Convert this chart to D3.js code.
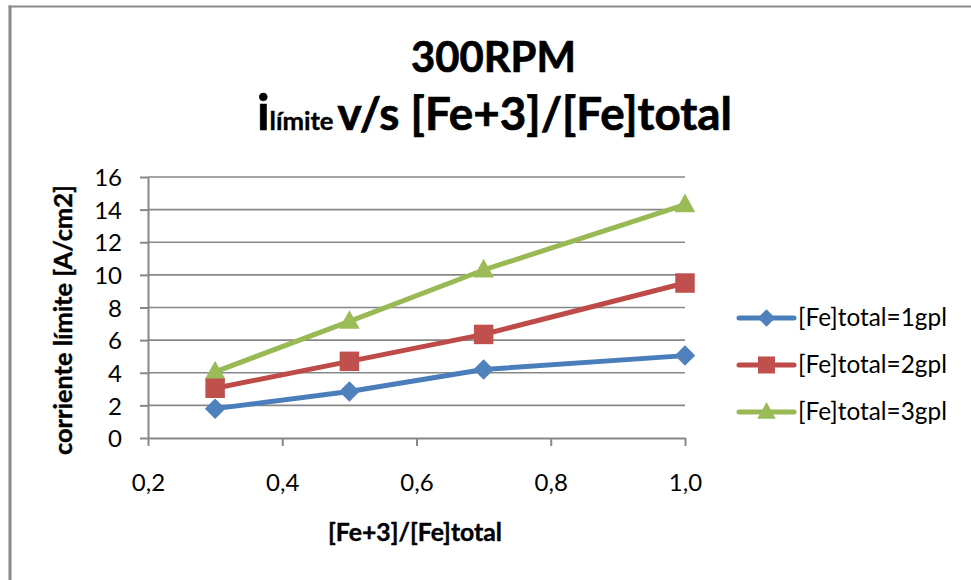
<!DOCTYPE html>
<html>
<head>
<meta charset="utf-8">
<script src="https://cdn.jsdelivr.net/npm/d3@7"></script>
<style>
  body { margin: 0; background: #fff; }
  svg { display: block; }
  text { font-family: Lato, "Open Sans", "Noto Sans", sans-serif; fill: #000; }
  .heavy { font-weight: 700; stroke: #000; stroke-width: 0.7px; paint-order: stroke; }
</style>
</head>
<body>
<svg id="chart" width="971" height="580"></svg>
<script>
// ---- data ----
const xValues = [0.3, 0.5, 0.7, 1.0];
const seriesNames = ["[Fe]total=1gpl", "[Fe]total=2gpl", "[Fe]total=3gpl"];
const fe1gpl = [1.8, 2.85, 4.2, 5.05];
const fe2gpl = [3.05, 4.7, 6.35, 9.5];
const fe3gpl = [4.05, 7.15, 10.3, 14.3];
const xTicks = [0.2, 0.4, 0.6, 0.8, 1.0];
const yTicks = [0, 2, 4, 6, 8, 10, 12, 14, 16];
const titleLine1 = "300RPM";
const titleMain = "i";
const titleSub = "límite";
const titleRest = "v/s [Fe+3]/[Fe]total";
const xTitle = "[Fe+3]/[Fe]total";
const yTitle = "corriente límite [A/cm2]";

// ---- layout ----
const W = 971, H = 580;
const plot = { left: 148, right: 685, top: 177, bottom: 438 };
const axisColor = "#878787";

const svg = d3.select("#chart");
svg.append("rect").attr("width", W).attr("height", H).attr("fill", "#fff");

// chart frame (left and top edges)
svg.append("line").attr("x1", 10).attr("x2", 10).attr("y1", 5.5).attr("y2", H)
  .attr("stroke", "#8a8a8a").attr("stroke-width", 3);
svg.append("line").attr("x1", 8.5).attr("x2", W).attr("y1", 6.5).attr("y2", 6.5)
  .attr("stroke", "#8a8a8a").attr("stroke-width", 2);

const x = d3.scaleLinear().domain([0.2, 1.0]).range([plot.left, plot.right]);
const y = d3.scaleLinear().domain([0, 16]).range([plot.bottom, plot.top]);

const commaLocale = d3.formatLocale({ decimal: ",", thousands: ".", grouping: [3], currency: ["", ""] });
const fmtX = commaLocale.format(".1f");

// scale a text element's font size so it spans the requested width
function fitWidth(sel, target) {
  const w = sel.node().getComputedTextLength();
  const fs = parseFloat(sel.style("font-size"));
  sel.style("font-size", (fs * target / w) + "px");
}

// ---- gridlines ----
svg.append("g").selectAll("line")
  .data(yTicks.filter(d => d > 0))
  .join("line")
  .attr("x1", plot.left).attr("x2", plot.right)
  .attr("y1", d => y(d)).attr("y2", d => y(d))
  .attr("stroke", axisColor).attr("stroke-width", 1.6);

// ---- axes ----
const gx = svg.append("g").attr("transform", `translate(0,${plot.bottom})`)
  .call(d3.axisBottom(x).tickValues(xTicks).tickFormat(fmtX).tickSize(8).tickSizeOuter(0).tickPadding(28));
const gy = svg.append("g").attr("transform", `translate(${plot.left},0)`)
  .call(d3.axisLeft(y).tickValues(yTicks).tickSize(8).tickSizeOuter(0).tickPadding(18));

[gx, gy].forEach(g => {
  g.select(".domain").attr("stroke", axisColor).attr("stroke-width", 2);
  g.selectAll(".tick line").attr("stroke", axisColor).attr("stroke-width", 2);
  g.selectAll(".tick text").attr("fill", "#000")
    .style("font-family", "Lato, 'Open Sans', sans-serif").style("font-size", "24px");
});
gy.selectAll(".tick text").attr("dy", "0.36em");

// ---- marker shapes ----
const diamond = {
  draw(ctx, size) {
    const r = Math.sqrt(size / 2);
    ctx.moveTo(0, -r); ctx.lineTo(r, 0); ctx.lineTo(0, r); ctx.lineTo(-r, 0); ctx.closePath();
  }
};
const square = {
  draw(ctx, size) {
    const s = Math.sqrt(size) / 2;
    ctx.rect(-s, -s, 2 * s, 2 * s);
  }
};
const triangle = {
  draw(ctx, size) {
    const w = Math.sqrt(size) * 1.1;
    const h = w * 0.9;
    ctx.moveTo(0, -h * 0.6); ctx.lineTo(w / 2, h * 0.4); ctx.lineTo(-w / 2, h * 0.4); ctx.closePath();
  }
};

const series = [
  { name: seriesNames[0], values: fe1gpl, line: "#4A7EBB", fill: "#4F81BD", shape: diamond, size: 210, legendSize: 150 },
  { name: seriesNames[1], values: fe2gpl, line: "#BE4B48", fill: "#C0504D", shape: square, size: 380, legendSize: 290 },
  { name: seriesNames[2], values: fe3gpl, line: "#98B954", fill: "#9BBB59", shape: triangle, size: 350, legendSize: 280 }
];

const lineGen = d3.line().x(d => x(d[0])).y(d => y(d[1]));

// later series underneath earlier ones
series.slice().reverse().forEach(s => {
  const pts = xValues.map((xv, i) => [xv, s.values[i]]);
  const g = svg.append("g");
  g.append("path").attr("d", lineGen(pts)).attr("fill", "none")
    .attr("stroke", s.line).attr("stroke-width", 5).attr("stroke-linejoin", "round").attr("stroke-linecap", "round");
  g.selectAll("path.mk").data(pts).join("path").attr("class", "mk")
    .attr("transform", d => `translate(${x(d[0])},${y(d[1])})`)
    .attr("d", d3.symbol().type(s.shape).size(s.size)())
    .attr("fill", s.fill);
});

// ---- legend ----
const legendRows = [318, 365, 412];
series.forEach((s, i) => {
  const g = svg.append("g").attr("transform", `translate(0,${legendRows[i]})`);
  g.append("line").attr("x1", 739).attr("x2", 794).attr("y1", 0).attr("y2", 0)
    .attr("stroke", s.line).attr("stroke-width", 5).attr("stroke-linecap", "round");
  g.append("path").attr("transform", "translate(766.5,0)")
    .attr("d", d3.symbol().type(s.shape).size(s.legendSize)()).attr("fill", s.fill);
  const t = g.append("text").attr("x", 798).attr("y", 7.5).style("font-size", "22px").text(s.name);
  fitWidth(t, 149);
});

// ---- titles ----
const t1 = svg.append("text").attr("class", "heavy").attr("x", 493.5).attr("y", 72).attr("text-anchor", "middle")
  .style("font-size", "38px").text(titleLine1);
fitWidth(t1, 165);

const t2 = svg.append("text").attr("class", "heavy").attr("y", 130);
const tsMain = t2.append("tspan").text(titleMain);
const tsSub = t2.append("tspan").style("stroke-width", "0.4px").text(titleSub);
const tsRest = t2.append("tspan").attr("dx", 4).text(titleRest);
function sizeLine2(big) {
  tsMain.style("font-size", (big * 1.08) + "px");
  tsRest.style("font-size", big + "px");
  tsSub.style("font-size", (big * 0.56) + "px");
}
sizeLine2(38);
const w2 = t2.node().getComputedTextLength();
sizeLine2(38 * 471 / w2);
t2.attr("x", 492.5 - 471 / 2);

const xt = svg.append("text").attr("class", "heavy").style("stroke-width", "0.4px")
  .attr("x", 415).attr("y", 541).attr("text-anchor", "middle")
  .style("font-size", "22px").text(xTitle);
fitWidth(xt, 174);

const yt = svg.append("text").attr("class", "heavy").style("stroke-width", "0.4px")
  .attr("transform", "translate(72,320) rotate(-90)").attr("text-anchor", "middle")
  .style("font-size", "22px").text(yTitle);
fitWidth(yt, 270);
</script>
</body>
</html>
